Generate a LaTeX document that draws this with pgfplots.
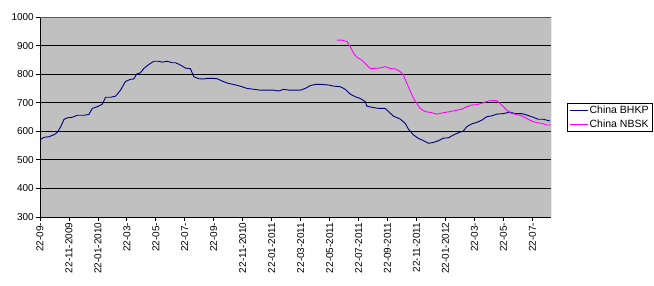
\documentclass[border=0pt]{standalone}
\usepackage{fontspec}
\setmainfont{Liberation Sans}
\usepackage{pgfplots}
\usepackage{pgfplotstable}
\pgfplotsset{compat=1.18}
\definecolor{plotgray}{RGB}{192,192,192}
\definecolor{bhkp}{RGB}{0,0,128}
\definecolor{nbsk}{RGB}{255,0,255}
\pgfplotstableread{
m v
0 570
0.28 579
0.62 581
0.97 588
1.2 596
1.43 616
1.66 642
1.89 647
2.23 649
2.57 656
3.03 656
3.38 659
3.61 680
3.95 686
4.3 695
4.53 719
4.87 719
5.22 723
5.56 744
5.9 774
6.25 782
6.48 783
6.67 800
6.94 805
7.17 820
7.52 834
7.86 845
8.2 845
8.44 842
8.78 845
9.13 840
9.36 840
9.7 832
10.05 821
10.39 819
10.62 791
10.97 784
11.31 783
11.54 785
12.0 785
12.23 784
12.57 776
12.92 769
13.26 765
13.61 761
13.95 756
14.3 750
14.76 747
15.22 744
15.68 744
16.14 744
16.48 741
16.83 747
17.17 744
17.52 744
17.98 744
18.32 750
18.67 760
19.01 764
19.47 764
19.93 762
20.28 758
20.74 756
21.08 747
21.43 730
21.77 721
22.11 715
22.46 704
22.57 688
22.92 684
23.38 680
23.84 680
24.07 669
24.41 653
24.87 643
25.22 628
25.45 607
25.8 587
26.14 575
26.49 567
26.83 558
27.17 561
27.52 567
27.86 576
28.21 577
28.55 587
28.9 595
29.24 601
29.47 616
29.82 626
30.16 631
30.51 639
30.85 651
31.2 654
31.54 660
32.0 662
32.46 667
32.8 662
33.26 662
33.61 657
34.07 649
34.41 642
34.76 642
35.22 636
}\bhkp
\pgfplotstableread{
m v
20.51 919
20.85 919
21.2 914
21.43 896
21.66 873
21.89 859
22.23 849
22.57 832
22.8 820
23.15 820
23.49 822
23.84 826
24.18 820
24.53 818
24.87 809
25.1 797
25.33 768
25.56 742
25.8 715
26.02 698
26.25 680
26.6 669
27.06 665
27.4 660
27.86 665
28.32 669
28.78 674
29.13 677
29.47 686
29.82 692
30.16 693
30.62 700
30.97 706
31.31 708
31.54 707
31.89 692
32.23 674
32.57 662
32.92 659
33.26 654
33.61 645
33.95 636
34.3 630
34.64 628
34.99 622
35.29 622
}\nbsk
\begin{document}
\begin{tikzpicture}[x=1pt,y=1pt]
\useasboundingbox (0,0) rectangle (654,286);
\begin{axis}[
  at={(40pt,69pt)}, anchor=south west,
  scale only axis, width=511pt, height=200pt,
  xmin=0, xmax=35.29, ymin=300, ymax=1000,
  ytick={300,400,...,1000},
  xtick={0,2,...,34},
  xticklabels={22-09-,22-11-2009,22-01-2010,22-03-,22-05-,22-07-,22-09-,22-11-2010,22-01-2011,22-03-2011,22-05-2011,22-07-2011,22-09-2011,22-11-2011,22-01-2012,22-03-,22-05-,22-07-},
  xticklabel style={rotate=90, anchor=east, inner sep=1.5pt},
  yticklabel style={inner sep=2pt},
  tick label style={font=\fontsize{10}{12}\selectfont},
  /pgf/number format/assume math mode=true,
  /pgf/number format/1000 sep={},
  axis background/.style={fill=plotgray},
  ymajorgrids, major grid style={black, line width=0.9pt},
  axis x line*=bottom, axis y line*=left,
  axis line style={black,-, line width=0.8pt},
  tick align=outside, major tick length=4pt,
  tick style={black, line width=0.8pt},
  legend style={at={(1.031,0.4975)}, anchor=west, draw=black, line width=0.7pt,
    fill=white, font=\fontsize{10.5}{12}\selectfont, inner xsep=2pt, inner ysep=2pt,
    row sep=4pt, nodes={inner xsep=1.5pt, inner ysep=0.5pt}},
  legend cell align=left,
  legend image code/.code={\draw[#1, line width=0.9pt] (0pt,0pt) -- (18pt,0pt);},
]
\draw[gray!70!black, line width=0.8pt] (rel axis cs:0,1) -- (rel axis cs:1,1) -- (rel axis cs:1,0);
\addplot[bhkp, line width=0.9pt] table[x=m,y=v] {\bhkp};
\addlegendentry{China BHKP}
\addplot[nbsk, line width=0.9pt] table[x=m,y=v] {\nbsk};
\addlegendentry{China NBSK}
\end{axis}
\end{tikzpicture}
\end{document}
